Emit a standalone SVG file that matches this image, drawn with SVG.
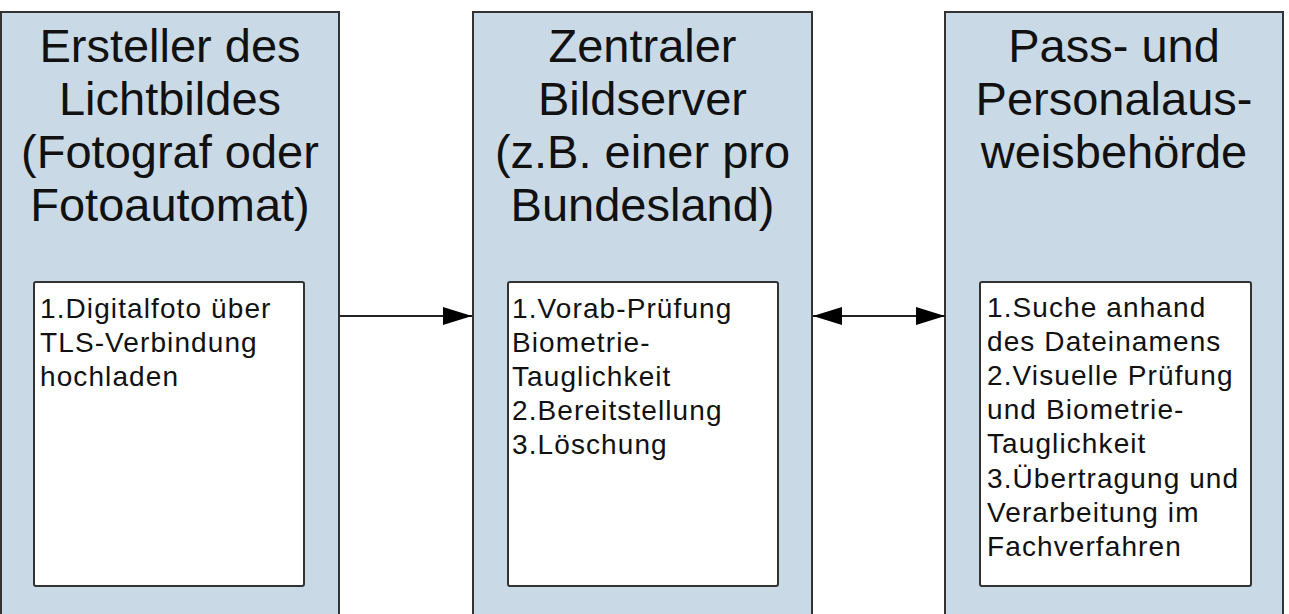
<svg xmlns="http://www.w3.org/2000/svg" width="1289" height="614" viewBox="0 0 1289 614">
<defs>
<style>
.col{fill:#c9dae6;stroke:#333;stroke-width:2}
.box{fill:#fff;stroke:#333;stroke-width:2}
.title{font-family:"Liberation Sans",Arial,sans-serif;font-size:47px;fill:#111;text-anchor:middle}
.body{font-family:"Liberation Sans",Arial,sans-serif;font-size:28px;fill:#111;letter-spacing:1.1px}
.conn{stroke:#222;stroke-width:2;fill:none}
</style>
<marker id="ah" markerUnits="userSpaceOnUse" markerWidth="30" markerHeight="20" refX="29" refY="9" orient="auto-start-reverse" viewBox="0 0 30 20">
<path d="M0,0 L29,9 L0,18 z" fill="#000"/>
</marker>
</defs>
<rect width="1289" height="614" fill="#fff"/>
<g id="node-ersteller">
<rect class="col" x="1" y="12" width="338" height="640"/>
<text class="title" x="170" y="62">Ersteller des</text>
<text class="title" x="170" y="115">Lichtbildes</text>
<text class="title" x="170" y="168">(Fotograf oder</text>
<text class="title" x="170" y="221">Fotoautomat)</text>
<rect class="box" x="34" y="282" width="270" height="304" rx="2"/>
<text class="body" x="40" y="318">1.Digitalfoto über</text>
<text class="body" x="40" y="352">TLS-Verbindung</text>
<text class="body" x="40" y="386">hochladen</text>
</g>
<g id="node-bildserver">
<rect class="col" x="473" y="12" width="339" height="640"/>
<text class="title" x="642.5" y="62">Zentraler</text>
<text class="title" x="642.5" y="115">Bildserver</text>
<text class="title" x="642.5" y="168">(z.B. einer pro</text>
<text class="title" x="642.5" y="221">Bundesland)</text>
<rect class="box" x="508" y="282" width="270" height="304" rx="2"/>
<text class="body" x="512" y="318">1.Vorab-Prüfung</text>
<text class="body" x="512" y="352">Biometrie-</text>
<text class="body" x="512" y="386">Tauglichkeit</text>
<text class="body" x="512" y="420">2.Bereitstellung</text>
<text class="body" x="512" y="454">3.Löschung</text>
</g>
<g id="node-behoerde">
<rect class="col" x="945" y="12" width="338" height="640"/>
<text class="title" x="1114" y="62">Pass- und</text>
<text class="title" x="1114" y="115">Personalaus-</text>
<text class="title" x="1114" y="168">weisbehörde</text>
<rect class="box" x="980" y="282" width="271" height="304" rx="2"/>
<text class="body" x="987" y="317">1.Suche anhand</text>
<text class="body" x="987" y="351">des Dateinamens</text>
<text class="body" x="987" y="385">2.Visuelle Prüfung</text>
<text class="body" x="987" y="419">und Biometrie-</text>
<text class="body" x="987" y="453">Tauglichkeit</text>
<text class="body" x="987" y="488">3.Übertragung und</text>
<text class="body" x="987" y="522">Verarbeitung im</text>
<text class="body" x="987" y="556">Fachverfahren</text>
</g>
<g id="connectors">
<line class="conn" x1="340" y1="316" x2="472" y2="316" marker-end="url(#ah)"/>
<line class="conn" x1="813" y1="316" x2="945" y2="316" marker-start="url(#ah)" marker-end="url(#ah)"/>
</g>
</svg>
